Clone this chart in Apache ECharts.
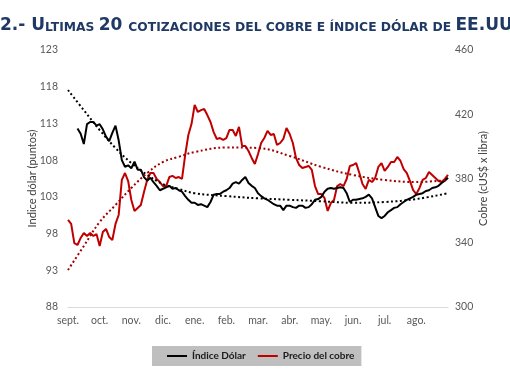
<!DOCTYPE html>
<html><head><meta charset="utf-8">
<script src="https://cdn.jsdelivr.net/npm/echarts@6/dist/echarts.min.js"></script>
<style>html,body{margin:0;padding:0;background:#fff}#c{width:510px;height:382px}</style>
</head><body><div id="c"></div>
<script>
const months = ['sept.','oct.','nov.','dic.','ene.','feb.','mar.','abr.','may.','jun.','jul.','ago.'];
const perMonth = 10;
const dolar = [null,null,null,112.3,111.6,110.2,112.9,113.2,113.2,112.7,
112.9,112.2,111.2,110.6,111.7,112.7,110.7,108.0,107.1,107.3,
106.9,107.8,106.7,106.7,105.7,105.2,105.6,105.0,104.5,103.9,
104.1,104.3,104.5,104.1,104.2,103.9,103.7,103.1,102.6,102.2,
102.2,101.9,102.0,101.8,101.6,102.3,103.3,103.4,103.4,103.7,
103.9,104.2,104.8,105.0,104.8,105.3,105.7,104.9,104.5,104.2,
103.5,103.1,102.8,102.6,102.3,102.0,101.8,101.8,101.2,101.8,
101.8,101.6,101.5,101.8,101.8,101.5,101.6,102.0,102.6,102.7,
103.0,103.7,104.1,104.2,104.1,104.2,104.3,104.2,103.5,102.3,
102.6,102.6,102.7,102.8,103.0,103.3,102.8,101.6,100.4,100.1,
100.4,100.9,101.2,101.5,101.6,102.0,102.3,102.6,102.8,103.0,
103.3,103.4,103.5,103.8,103.9,104.2,104.3,104.5,104.9,105.2,
105.6];
const cobre = [354.2,351.7,339.8,338.6,343.0,346.1,344.2,346.1,344.2,345.4,
338.0,346.7,348.6,343.6,341.7,351.7,357.3,379.1,383.4,378.4,
366.6,359.8,361.6,363.5,371.6,379.1,383.4,383.4,379.7,377.8,
375.3,375.3,380.9,381.6,380.3,380.9,379.7,394.6,407.1,413.9,
425.8,421.4,422.6,423.3,419.5,415.2,408.9,404.6,405.2,404.0,
405.2,410.2,410.2,406.5,412.1,400.2,400.2,397.1,392.8,389.0,
395.2,402.1,405.2,409.6,407.1,407.7,400.9,402.1,404.6,411.4,
407.7,402.1,392.8,388.4,386.5,387.2,387.8,385.3,375.3,370.3,
370.3,367.9,359.8,364.7,366.6,375.3,376.6,375.3,379.7,387.8,
388.4,389.6,383.4,376.6,373.5,379.1,377.8,380.3,387.2,389.6,
384.7,387.2,390.3,390.3,393.4,390.9,385.9,383.4,378.4,372.8,
370.3,374.1,379.1,380.3,384.0,382.2,380.3,378.4,377.8,379.7,
382.2];
// dotted trend lines, read at a few category positions
const trendAt = [0,5,10,15,20,25,30,35,40,50,60,70,80,90,100,110,120];
const dolarTrendVals = [117.55,114.8,112.1,109.65,107.6,106.0,104.75,104.07,103.5,103.1,102.8,102.6,102.4,102.2,102.3,102.7,103.5];
const cobreTrendVals = [323.0,338.0,352.9,363.5,374.1,383.4,390.3,393.5,396.5,399.3,399.0,394.0,387.2,382.2,379.1,377.8,379.1];
const leftAxis = {min: 88, max: 123, step: 5};
const rightAxis = {min: 300, max: 460, step: 40};

const n = cobre.length;
const cats = [];
for (let i = 0; i < n; i++) cats.push(i % perMonth === 0 ? (months[i / perMonth] || '') : '');
function sparse(vals) {
  const a = new Array(n).fill(null);
  trendAt.forEach((p, k) => { a[p] = vals[k]; });
  return a;
}
const FONT = 'Lato, "Open Sans", sans-serif';
const navy = '#1f3864';
const chart = echarts.init(document.getElementById('c'), null, {renderer: 'canvas'});
chart.setOption({
  backgroundColor: '#fff',
  animation: false,
  title: {
    text: '{b|2.- U}{s|LTIMAS }{b|20 }{s|COTIZACIONES DEL COBRE E ÍNDICE DÓLAR DE }{b|EE.UU}',
    left: 0, top: 17, padding: 0,
    textStyle: {
      rich: {
        b: {fontFamily: 'DejaVu Sans', fontWeight: 'bold', fontSize: 17, lineHeight: 17, color: navy, verticalAlign: 'bottom'},
        s: {fontFamily: 'DejaVu Sans', fontWeight: 'bold', fontSize: 12.3, lineHeight: 12.3, color: navy, verticalAlign: 'bottom'}
      }
    }
  },
  legend: {
    data: ['Índice Dólar', 'Precio del cobre'],
    left: 152, top: 346,
    padding: [5, 7, 5, 15],
    backgroundColor: '#bfbfbf',
    itemWidth: 20, itemHeight: 2, itemGap: 12,
    icon: 'rect',
    textStyle: {fontFamily: FONT, fontWeight: 'bold', fontSize: 10, color: '#1a1a1a'}
  },
  grid: {left: 68, right: 62, top: 50, bottom: 75, containLabel: false},
  xAxis: {
    type: 'category', data: cats, boundaryGap: false,
    axisLine: {lineStyle: {color: '#d9d9d9', width: 1}},
    axisTick: {show: false},
    axisLabel: {interval: 0, color: '#595959', fontFamily: FONT, fontSize: 10.5, margin: 8},
    splitLine: {show: false}
  },
  yAxis: [{
    type: 'value', min: leftAxis.min, max: leftAxis.max, interval: leftAxis.step,
    name: 'Indice dólar (puntos)', nameLocation: 'middle', nameRotate: 90, nameGap: 30, nameMoveOverlap: false,
    nameTextStyle: {color: '#404040', fontFamily: FONT, fontSize: 11},
    axisLine: {show: false}, axisTick: {show: false}, splitLine: {show: false},
    axisLabel: {color: '#595959', fontFamily: FONT, fontSize: 10.5, margin: 10}
  }, {
    type: 'value', min: rightAxis.min, max: rightAxis.max, interval: rightAxis.step,
    position: 'right',
    name: 'Cobre (cUS$ x libra)', nameLocation: 'middle', nameRotate: 90, nameGap: 30, nameMoveOverlap: false,
    nameTextStyle: {color: '#404040', fontFamily: FONT, fontSize: 11},
    axisLine: {show: false}, axisTick: {show: false}, splitLine: {show: false},
    axisLabel: {color: '#595959', fontFamily: FONT, fontSize: 10.5, margin: 7}
  }],
  series: [
    {name: 'Índice Dólar', type: 'line', yAxisIndex: 0, data: dolar, showSymbol: false, symbol: 'none',
     lineStyle: {color: '#000', width: 2}, itemStyle: {color: '#000'}, z: 3},
    {name: 'Precio del cobre', type: 'line', yAxisIndex: 1, data: cobre, showSymbol: false, symbol: 'none',
     lineStyle: {color: '#c00000', width: 2}, itemStyle: {color: '#c00000'}, z: 2},
    {name: 'tendDolar', type: 'line', yAxisIndex: 0, data: sparse(dolarTrendVals), connectNulls: true, smooth: 0.4,
     showSymbol: false, symbol: 'none', lineStyle: {color: '#000', width: 2, type: [2, 2.5]}, z: 4},
    {name: 'tendCobre', type: 'line', yAxisIndex: 1, data: sparse(cobreTrendVals), connectNulls: true, smooth: 0.4,
     showSymbol: false, symbol: 'none', lineStyle: {color: '#a00000', width: 2, type: [2, 2.5]}, z: 4}
  ]
});
</script></body></html>
